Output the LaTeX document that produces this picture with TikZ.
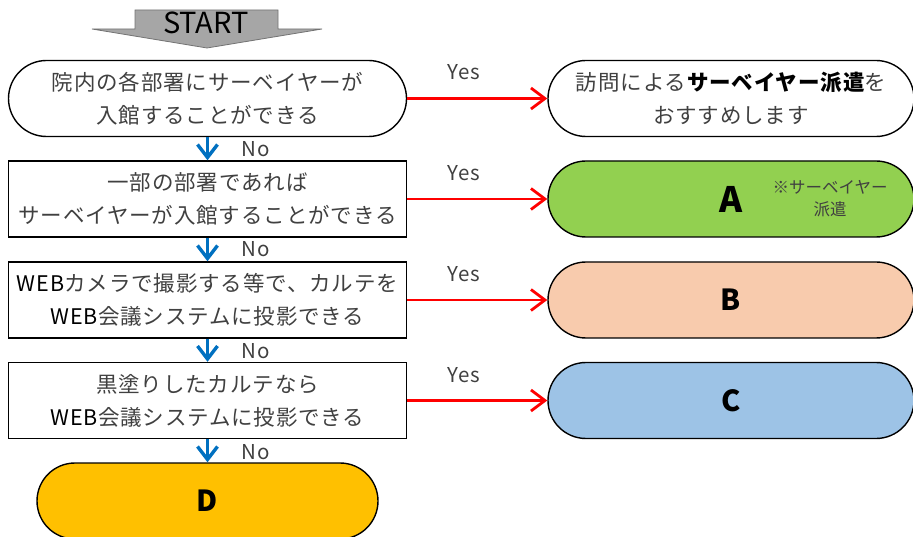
\documentclass[tikz,border=0pt]{standalone}
\usepackage{fontspec}
\setmainfont{Noto Sans CJK JP}
\newfontfamily\jpwide[LetterSpace=4]{Noto Sans CJK JP}
\usetikzlibrary{arrows.meta}
\definecolor{txt}{HTML}{404040}
\definecolor{agreen}{HTML}{92D050}
\definecolor{bpeach}{HTML}{F8CBAD}
\definecolor{cblue}{HTML}{9DC3E6}
\definecolor{dorange}{HTML}{FFC000}
\definecolor{nblue}{HTML}{0070C0}
\definecolor{startgray}{HTML}{A6A6A6}
\begin{document}
\begin{tikzpicture}[x=1pt,y=-1pt,
  box/.style={draw=black, line width=1.4pt, minimum width=398pt, minimum height=76pt,
    align=center, text=txt, font=\jpwide\fontsize{21.5}{33}\selectfont, inner sep=0pt},
  term/.style={box, rounded corners=38pt},
  endterm/.style={term, minimum width=366pt},
  bigletter/.style={font=\fontsize{29}{33}\selectfont\bfseries, text=black},
  yesarrow/.style={draw=red, line width=2.8pt, -{Straight Barb[length=14pt,width=21pt,line width=2.8pt]}},
  noarrow/.style={draw=nblue, line width=3.4pt, -{Straight Barb[length=13pt,width=20pt,line width=3.4pt]}},
  lbl/.style={text=txt, font=\jpwide\fontsize{20.5}{22}\selectfont, inner sep=0pt}
]
\useasboundingbox (0,0) rectangle (913,537);

% START arrow
\draw[fill=startgray, draw=gray!90!black, line width=0.8pt]
  (135,10) -- (278,10) -- (278,29) -- (322,29) -- (207,48) -- (92,29) -- (135,29) -- cycle;
\node[font=\fontsize{29}{30}\selectfont, text=black, inner sep=0pt] (start) at (206,23) {START};

% left column
\node[term] (q1) at (207.5,98.5) {院内の各部署にサーベイヤーが\\入館することができる};
\node[box] (q2) at (207.5,199) {一部の部署であれば\\サーベイヤーが入館することができる};
\node[box] (q3) at (207.5,300) {{\color{black}WEB}カメラで撮影する等で、カルテを\\{\color{black}WEB}会議システムに投影できる};
\node[box] (q4) at (207.5,400.5) {黒塗りしたカルテなら\\{\color{black}WEB}会議システムに投影できる};
\node[term, fill=dorange, minimum width=341pt, bigletter] (d) at (207.5,501) {D};

% right column
\node[endterm] (r1) at (731,98.5) {訪問による\textbf{\color{black}サーベイヤー派遣}を\\おすすめします};
\node[endterm, fill=agreen, bigletter, font=\fontsize{35}{38}\selectfont\bfseries] (ra) at (731,199) {A};
\node[align=center, text=txt, font=\fontsize{16.5}{22}\selectfont, inner sep=0pt] (anote) at (830,199) {※サーベイヤー\\派遣};
\node[endterm, fill=bpeach, bigletter] (rb) at (731,300) {B};
\node[endterm, fill=cblue, bigletter] (rc) at (731,400.5) {C};

% yes arrows
\draw[yesarrow] (q1.east) -- (r1.west);
\draw[yesarrow] (q2.east) -- (ra.west);
\draw[yesarrow] (q3.east) -- (rb.west);
\draw[yesarrow] (q4.east) -- (rc.west);
\node[lbl] (y1) at (464,72) {Yes};
\node[lbl] (y2) at (464,173) {Yes};
\node[lbl] (y3) at (464,274) {Yes};
\node[lbl] (y4) at (464,375) {Yes};

% no arrows
\draw[noarrow] (q1.south) -- (q2.north);
\draw[noarrow] (q2.south) -- (q3.north);
\draw[noarrow] (q3.south) -- (q4.north);
\draw[noarrow] (q4.south) -- (d.north);
\node[lbl] (n1) at (256,149) {No};
\node[lbl] (n2) at (256,249) {No};
\node[lbl] (n3) at (256,351) {No};
\node[lbl] (n4) at (256,452) {No};
\end{tikzpicture}
\end{document}
